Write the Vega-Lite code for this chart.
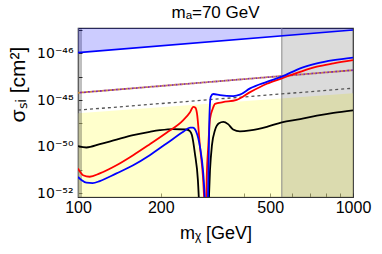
{
  "$schema": "https://vega.github.io/schema/vega-lite/v6.json",
  "width": 275,
  "height": 169,
  "autosize": {"type": "none"},
  "padding": {"left": 78, "top": 28, "right": 29, "bottom": 57},
  "background": "white",
  "config": {
    "font": "Liberation Sans",
    "view": {"stroke": "#333333", "strokeWidth": 1.2},
    "axis": {"grid": false, "domain": false, "tickColor": "#333333", "tickSize": -4, "labelColor": "black", "titleColor": "black", "labelFontSize": 16, "titleFontSize": 17, "titleFontWeight": "normal", "labelFlush": false, "labelOverlap": false}
  },
  "title": {"text": "mₐ=70 GeV", "fontSize": 17, "fontWeight": "normal", "color": "black", "offset": 1},
  "datasets": {
    "curves": [
      {"m": 100, "sigma": 1.07e-50, "model": "A", "branch": "low"},
      {"m": 107.3, "sigma": 9.33e-51, "model": "A", "branch": "low"},
      {"m": 120, "sigma": 1.29e-50, "model": "A", "branch": "low"},
      {"m": 138, "sigma": 2.04e-50, "model": "A", "branch": "low"},
      {"m": 158.7, "sigma": 3.16e-50, "model": "A", "branch": "low"},
      {"m": 182.4, "sigma": 4.37e-50, "model": "A", "branch": "low"},
      {"m": 198.5, "sigma": 5.13e-50, "model": "A", "branch": "low"},
      {"m": 221.8, "sigma": 5.75e-50, "model": "A", "branch": "low"},
      {"m": 248.3, "sigma": 5.5e-50, "model": "A", "branch": "low"},
      {"m": 255.3, "sigma": 4.68e-50, "model": "A", "branch": "low"},
      {"m": 259.5, "sigma": 3.16e-50, "model": "A", "branch": "low"},
      {"m": 266, "sigma": 5.37e-51, "model": "A", "branch": "low"},
      {"m": 272.9, "sigma": 3.72e-52, "model": "A", "branch": "low"},
      {"m": 277, "sigma": 1e-53, "model": "A", "branch": "low"},
      {"m": 297.5, "sigma": 1e-53, "model": "A", "branch": "high"},
      {"m": 302, "sigma": 1e-51, "model": "A", "branch": "high"},
      {"m": 307, "sigma": 1.17e-50, "model": "A", "branch": "high"},
      {"m": 315, "sigma": 5.25e-50, "model": "A", "branch": "high"},
      {"m": 325.6, "sigma": 1.02e-49, "model": "A", "branch": "high"},
      {"m": 337.4, "sigma": 1.17e-49, "model": "A", "branch": "high"},
      {"m": 351.3, "sigma": 9.33e-50, "model": "A", "branch": "high"},
      {"m": 366.4, "sigma": 5.5e-50, "model": "A", "branch": "high"},
      {"m": 388, "sigma": 4.6e-50, "model": "A", "branch": "high"},
      {"m": 422.4, "sigma": 5.0e-50, "model": "A", "branch": "high"},
      {"m": 486, "sigma": 7.08e-50, "model": "A", "branch": "high"},
      {"m": 551, "sigma": 1.12e-49, "model": "A", "branch": "high"},
      {"m": 642.5, "sigma": 1.51e-49, "model": "A", "branch": "high"},
      {"m": 739, "sigma": 2.14e-49, "model": "A", "branch": "high"},
      {"m": 849.6, "sigma": 2.82e-49, "model": "A", "branch": "high"},
      {"m": 1000, "sigma": 3.63e-49, "model": "A", "branch": "high"},
      {"m": 100, "sigma": 1.17e-51, "model": "B", "branch": "low"},
      {"m": 101.4, "sigma": 8.91e-52, "model": "B", "branch": "low"},
      {"m": 104.3, "sigma": 6.03e-52, "model": "B", "branch": "low"},
      {"m": 110.3, "sigma": 5.2e-52, "model": "B", "branch": "low"},
      {"m": 120, "sigma": 7.24e-52, "model": "B", "branch": "low"},
      {"m": 138, "sigma": 1.62e-51, "model": "B", "branch": "low"},
      {"m": 158.7, "sigma": 4.37e-51, "model": "B", "branch": "low"},
      {"m": 182.4, "sigma": 1.29e-50, "model": "B", "branch": "low"},
      {"m": 209.9, "sigma": 3.98e-50, "model": "B", "branch": "low"},
      {"m": 241.5, "sigma": 1.38e-49, "model": "B", "branch": "low"},
      {"m": 255.5, "sigma": 3.02e-49, "model": "B", "branch": "low"},
      {"m": 262.5, "sigma": 5.13e-49, "model": "B", "branch": "low"},
      {"m": 267.4, "sigma": 4.68e-49, "model": "B", "branch": "low"},
      {"m": 270.8, "sigma": 2.69e-49, "model": "B", "branch": "low"},
      {"m": 277.7, "sigma": 1e-50, "model": "B", "branch": "low"},
      {"m": 284.8, "sigma": 5.01e-52, "model": "B", "branch": "low"},
      {"m": 289.7, "sigma": 1e-53, "model": "B", "branch": "low"},
      {"m": 292, "sigma": 1e-53, "model": "B", "branch": "high"},
      {"m": 293.8, "sigma": 4.27e-52, "model": "B", "branch": "high"},
      {"m": 297.8, "sigma": 1.15e-50, "model": "B", "branch": "high"},
      {"m": 302, "sigma": 1.58e-49, "model": "B", "branch": "high"},
      {"m": 309, "sigma": 4.27e-49, "model": "B", "branch": "high"},
      {"m": 315, "sigma": 6.92e-49, "model": "B", "branch": "high"},
      {"m": 336.6, "sigma": 8.13e-49, "model": "B", "branch": "high"},
      {"m": 377.6, "sigma": 1.02e-48, "model": "B", "branch": "high"},
      {"m": 422.4, "sigma": 2.19e-48, "model": "B", "branch": "high"},
      {"m": 486, "sigma": 5.01e-48, "model": "B", "branch": "high"},
      {"m": 551, "sigma": 8.51e-48, "model": "B", "branch": "high"},
      {"m": 642.5, "sigma": 1.62e-47, "model": "B", "branch": "high"},
      {"m": 739, "sigma": 2.69e-47, "model": "B", "branch": "high"},
      {"m": 849.6, "sigma": 3.72e-47, "model": "B", "branch": "high"},
      {"m": 1000, "sigma": 5.13e-47, "model": "B", "branch": "high"},
      {"m": 100, "sigma": 5.13e-52, "model": "C", "branch": "low"},
      {"m": 103.2, "sigma": 3.72e-52, "model": "C", "branch": "low"},
      {"m": 107.3, "sigma": 2.9e-52, "model": "C", "branch": "low"},
      {"m": 113.1, "sigma": 2.8e-52, "model": "C", "branch": "low"},
      {"m": 120, "sigma": 3.4e-52, "model": "C", "branch": "low"},
      {"m": 138, "sigma": 7.24e-52, "model": "C", "branch": "low"},
      {"m": 158.7, "sigma": 1.62e-51, "model": "C", "branch": "low"},
      {"m": 182.4, "sigma": 4.37e-51, "model": "C", "branch": "low"},
      {"m": 209.9, "sigma": 1.38e-50, "model": "C", "branch": "low"},
      {"m": 241.5, "sigma": 4.37e-50, "model": "C", "branch": "low"},
      {"m": 255.5, "sigma": 6.61e-50, "model": "C", "branch": "low"},
      {"m": 261.9, "sigma": 6.61e-50, "model": "C", "branch": "low"},
      {"m": 268.5, "sigma": 4.68e-50, "model": "C", "branch": "low"},
      {"m": 277.7, "sigma": 1e-50, "model": "C", "branch": "low"},
      {"m": 285.4, "sigma": 7.41e-52, "model": "C", "branch": "low"},
      {"m": 291.7, "sigma": 1e-53, "model": "C", "branch": "low"},
      {"m": 295.8, "sigma": 1e-53, "model": "C", "branch": "high"},
      {"m": 298.3, "sigma": 1e-51, "model": "C", "branch": "high"},
      {"m": 300.3, "sigma": 1.41e-49, "model": "C", "branch": "high"},
      {"m": 303.8, "sigma": 1.38e-48, "model": "C", "branch": "high"},
      {"m": 310.4, "sigma": 1.82e-48, "model": "C", "branch": "high"},
      {"m": 328.3, "sigma": 1.62e-48, "model": "C", "branch": "high"},
      {"m": 367, "sigma": 1.48e-48, "model": "C", "branch": "high"},
      {"m": 388, "sigma": 1.7e-48, "model": "C", "branch": "high"},
      {"m": 422.4, "sigma": 3.16e-48, "model": "C", "branch": "high"},
      {"m": 486, "sigma": 6.03e-48, "model": "C", "branch": "high"},
      {"m": 551, "sigma": 1e-47, "model": "C", "branch": "high"},
      {"m": 642.5, "sigma": 2.29e-47, "model": "C", "branch": "high"},
      {"m": 739, "sigma": 3.72e-47, "model": "C", "branch": "high"},
      {"m": 849.6, "sigma": 5.13e-47, "model": "C", "branch": "high"},
      {"m": 1000, "sigma": 6.61e-47, "model": "C", "branch": "high"}
    ],
    "bounds": [
      {"m": 100, "sigma": 1.07e-46, "kind": "excluded"},
      {"m": 1000, "sigma": 1.0e-45, "kind": "excluded"},
      {"m": 100, "sigma": 2.05e-48, "kind": "projected"},
      {"m": 1000, "sigma": 1.9e-47, "kind": "projected"},
      {"m": 100, "sigma": 3.7e-49, "kind": "future"},
      {"m": 1000, "sigma": 3.2e-48, "kind": "future"},
      {"m": 100, "sigma": 2.7e-49, "kind": "floor"},
      {"m": 1000, "sigma": 1.94e-48, "kind": "floor"}
    ],
    "bands": [
      {"m": 551, "m2": 1000, "sigma": 1e-53, "sigma2": 1e-44, "kind": "right"},
      {"m": 100, "m2": 103.4, "sigma": 1e-53, "sigma2": 1e-44, "kind": "left"}
    ]
  },
  "encoding": {
    "x": {"field": "m", "type": "quantitative", "scale": {"type": "log", "domain": [100, 1000], "nice": false},
      "axis": {"title": "mᵪ [GeV]", "titleFontSize": 18, "values": [100, 200, 300, 400, 500, 600, 700, 800, 900, 1000], "format": "d", "labelExpr": "datum.value == 100 || datum.value == 200 || datum.value == 500 || datum.value == 1000 ? datum.label : ''", "labelPadding": 6, "titlePadding": 9}},
    "y": {"field": "sigma", "type": "quantitative", "scale": {"type": "log", "domain": [7.08e-53, 1.216e-45], "nice": false},
      "axis": {"title": "σₛᵢ [cm²]", "titleFontSize": 21, "labelFont": "DejaVu Sans", "labelFontSize": 14, "values": [1e-52, 1e-51, 1e-50, 1e-49, 1e-48, 1e-47, 1e-46, 1e-45], "labelExpr": "round(log(datum.value)/LN10) == -46 ? '10⁻⁴⁶' : round(log(datum.value)/LN10) == -48 ? '10⁻⁴⁸' : round(log(datum.value)/LN10) == -50 ? '10⁻⁵⁰' : round(log(datum.value)/LN10) == -52 ? '10⁻⁵²' : ''", "labelPadding": 9, "titleX": -60, "titleY": 56, "titleAlign": "center", "titleBaseline": "middle"}}
  },
  "layer": [
    {"data": {"name": "bounds"}, "transform": [{"filter": "datum.kind == 'floor'"}],
      "mark": {"type": "area", "color": "#ffff99", "opacity": 0.5, "clip": true},
      "encoding": {"y2": {"datum": 1e-53}}},
    {"data": {"name": "bands"}, "transform": [{"filter": "datum.kind == 'right'"}],
      "mark": {"type": "rect", "color": "#000000", "opacity": 0.14, "clip": true},
      "encoding": {"x2": {"field": "m2"}, "y2": {"field": "sigma2"}}},
    {"data": {"name": "bands"}, "transform": [{"filter": "datum.kind == 'left'"}],
      "mark": {"type": "rect", "color": "#000000", "opacity": 0.25, "clip": true},
      "encoding": {"x2": {"field": "m2"}, "y2": {"field": "sigma2"}}},
    {"data": {"name": "bands"},
      "mark": {"type": "rule", "color": "#888888", "strokeWidth": 1, "clip": true},
      "encoding": {"x": {"field": "m", "type": "quantitative"}, "y2": {"field": "sigma2"}}},
    {"data": {"name": "bounds"}, "transform": [{"filter": "datum.kind == 'excluded'"}],
      "mark": {"type": "area", "color": "#0000ff", "opacity": 0.2, "clip": true},
      "encoding": {"y2": {"datum": 1e-44}}},
    {"data": {"name": "bounds"}, "transform": [{"filter": "datum.kind == 'future'"}],
      "mark": {"type": "line", "color": "#555555", "strokeWidth": 1.3, "strokeDash": [3, 3], "clip": true},
      "encoding": {}},
    {"data": {"name": "bounds"}, "transform": [{"filter": "datum.kind == 'projected'"}],
      "mark": {"type": "line", "color": "#c8873a", "strokeWidth": 1.8, "strokeDash": [2, 2], "clip": true},
      "encoding": {}},
    {"data": {"name": "bounds"}, "transform": [{"filter": "datum.kind == 'projected'"}],
      "mark": {"type": "line", "color": "#8a2b9e", "strokeWidth": 1.8, "strokeDash": [2, 2], "strokeDashOffset": 2, "clip": true},
      "encoding": {}},
    {"data": {"name": "bounds"}, "transform": [{"filter": "datum.kind == 'excluded'"}],
      "mark": {"type": "line", "color": "#0000ff", "strokeWidth": 1.6, "clip": true},
      "encoding": {}},
    {"data": {"name": "curves"},
      "mark": {"type": "line", "strokeWidth": 1.8, "interpolate": "monotone", "clip": true},
      "encoding": {
        "color": {"field": "model", "type": "nominal", "scale": {"domain": ["A", "B", "C"], "range": ["#000000", "#ff0000", "#0000ff"]}, "legend": null},
        "detail": {"field": "branch"}
      }}
  ]
}
